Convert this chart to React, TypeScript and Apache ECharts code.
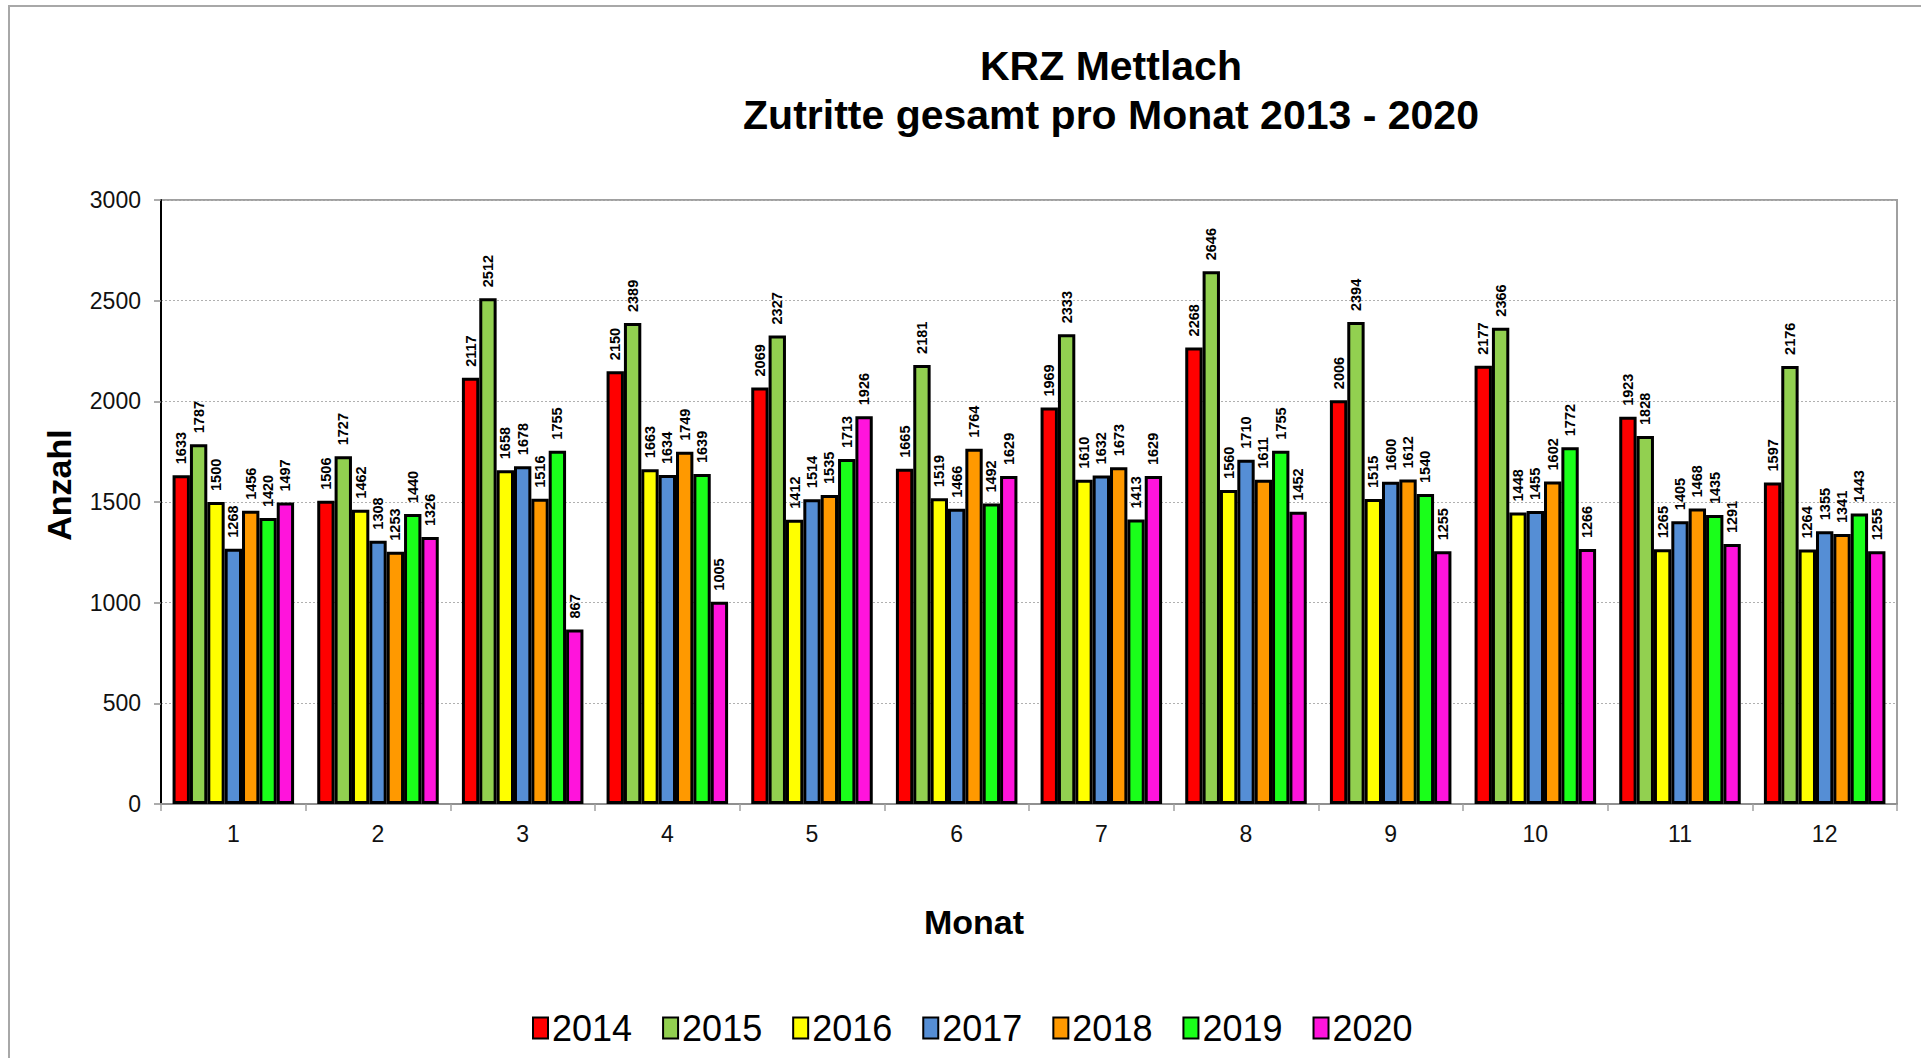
import React, { useEffect, useRef } from "react";
import * as echarts from "echarts";

const months = ["1", "2", "3", "4", "5", "6", "7", "8", "9", "10", "11", "12"];
const years = ["2014", "2015", "2016", "2017", "2018", "2019", "2020"];
const v2014 = [1633, 1506, 2117, 2150, 2069, 1665, 1969, 2268, 2006, 2177, 1923, 1597];
const v2015 = [1787, 1727, 2512, 2389, 2327, 2181, 2333, 2646, 2394, 2366, 1828, 2176];
const v2016 = [1500, 1462, 1658, 1663, 1412, 1519, 1610, 1560, 1515, 1448, 1265, 1264];
const v2017 = [1268, 1308, 1678, 1634, 1514, 1466, 1632, 1710, 1600, 1455, 1405, 1355];
const v2018 = [1456, 1253, 1516, 1749, 1535, 1764, 1673, 1611, 1612, 1602, 1468, 1341];
const v2019 = [1420, 1440, 1755, 1639, 1713, 1492, 1413, 1755, 1540, 1772, 1435, 1443];
const v2020 = [1497, 1326, 867, 1005, 1926, 1629, 1629, 1452, 1255, 1266, 1291, 1255];
const seriesValues = [v2014, v2015, v2016, v2017, v2018, v2019, v2020];
const colors = ["#FF0000", "#92D050", "#FFFF00", "#558ED5", "#FF9900", "#1AFF1A", "#FF14DC"];

const titleLine1 = "KRZ Mettlach";
const titleLine2 = "Zutritte gesamt pro Monat 2013 - 2020";
const yName = "Anzahl";
const xName = "Monat";

const FONT = "'Liberation Sans', Arial, sans-serif";

export default function App() {
  const ref = useRef<HTMLDivElement>(null);
  useEffect(() => {
    if (!ref.current) return;
    const chart = echarts.init(ref.current, undefined, { renderer: "svg" });
    chart.setOption({
      animation: false,
      backgroundColor: "#ffffff",
      textStyle: { fontFamily: FONT },
      graphic: [
        {
          type: "rect",
          shape: { x: 9, y: 6, width: 1920, height: 1070 },
          style: { fill: "none", stroke: "#a8a8a8", lineWidth: 2 },
          silent: true,
        },
        {
          type: "text",
          x: 1111,
          y: 66,
          style: { text: titleLine1, align: "center", verticalAlign: "middle", font: `bold 41px ${FONT}`, fill: "#000" },
        },
        {
          type: "text",
          x: 1111,
          y: 115,
          style: { text: titleLine2, align: "center", verticalAlign: "middle", font: `bold 41px ${FONT}`, fill: "#000" },
        },
        {
          type: "text",
          x: 59,
          y: 485,
          rotation: Math.PI / 2,
          style: { text: yName, align: "center", verticalAlign: "middle", font: `bold 34px ${FONT}`, fill: "#000" },
        },
        {
          type: "text",
          x: 974,
          y: 922,
          style: { text: xName, align: "center", verticalAlign: "middle", font: `bold 34px ${FONT}`, fill: "#000" },
        },
      ],
      legend: {
        data: years,
        left: 527,
        top: 1005,
        icon: "rect",
        itemWidth: 15,
        itemHeight: 21,
        itemGap: 30,
        textStyle: { fontSize: 36, color: "#000", fontFamily: FONT, padding: [0, 0, 0, -1] },
        itemStyle: { borderColor: "#000", borderWidth: 2 },
      },
      grid: {
        left: 161,
        right: 24,
        top: 200,
        bottom: 254,
        show: true,
        borderColor: "#a0a0a0",
        borderWidth: 2,
        backgroundColor: "transparent",
      },
      xAxis: {
        type: "category",
        data: months,
        axisLine: { show: true, lineStyle: { color: "#909090", width: 2 } },
        axisTick: { show: true, length: 7, lineStyle: { color: "#a0a0a0", width: 1.5 } },
        axisLabel: { fontSize: 23, color: "#111", margin: 18, fontFamily: FONT },
        splitLine: { show: false },
      },
      yAxis: {
        type: "value",
        min: 0,
        max: 3000,
        interval: 500,
        axisLine: { show: true, lineStyle: { color: "#000", width: 2 } },
        axisTick: { show: true, length: 7, lineStyle: { color: "#909090", width: 1.5 } },
        axisLabel: {
          fontSize: 23,
          color: "#111",
          margin: 20,
          fontFamily: FONT,
          formatter: (v: number) => String(v),
        },
        splitLine: { show: true, lineStyle: { color: "#b0b0b0", width: 1, type: [2, 2] } },
      },
      series: years.map((y, i) => ({
        name: y,
        type: "bar",
        data: seriesValues[i],
        barGap: "0%",
        barCategoryGap: "16%",
        itemStyle: { color: colors[i], borderColor: "#000", borderWidth: 3 },
        label: {
          show: true,
          position: "top",
          rotate: 90,
          align: "left",
          verticalAlign: "middle",
          distance: 11,
          fontSize: 14.5,
          fontWeight: "bold",
          color: "#000",
          fontFamily: FONT,
        },
      })),
    });
    return () => chart.dispose();
  }, []);
  return (
    <div
      ref={ref}
      style={{ position: "fixed", left: 0, top: 0, width: 1921, height: 1058 }}
    />
  );
}
